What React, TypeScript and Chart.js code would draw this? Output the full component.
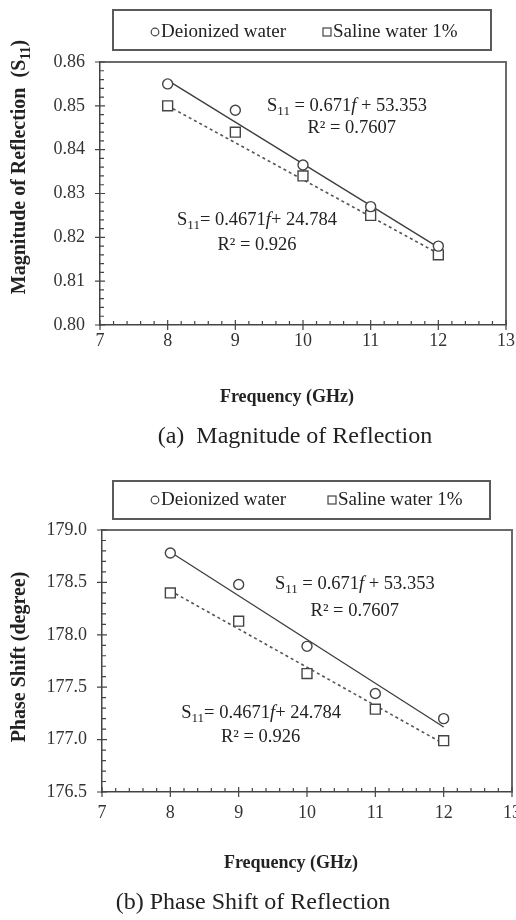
import React, { useEffect, useRef } from 'react';
import { Chart, registerables } from 'chart.js';

Chart.register(...registerables);

const FAMILY = "'Liberation Serif', 'Times New Roman', serif";

// ---------- data ----------
const SERIES_LABELS = ['Deionized water', 'Saline water 1%'];
const FREQ = [8, 9, 10, 11, 12];
const TREND_X = [8, 12];
const X_TICKS = [7, 8, 9, 10, 11, 12, 13];
const X_TICK_LABELS = ['7', '8', '9', '10', '11', '12', '13'];

const MAG_DEIONIZED = [0.855, 0.849, 0.8365, 0.827, 0.818];
const MAG_SALINE = [0.85, 0.844, 0.834, 0.825, 0.816];
const MAG_TREND_DEIONIZED = [0.8558, 0.8177];
const MAG_TREND_SALINE = [0.85, 0.8163];
const MAG_Y_TICKS = [0.8, 0.81, 0.82, 0.83, 0.84, 0.85, 0.86];
const MAG_Y_TICK_LABELS = ['0.80', '0.81', '0.82', '0.83', '0.84', '0.85', '0.86'];

const PHASE_DEIONIZED = [178.78, 178.48, 177.89, 177.44, 177.2];
const PHASE_SALINE = [178.4, 178.13, 177.63, 177.29, 176.99];
const PHASE_TREND_DEIONIZED = [178.79, 177.12];
const PHASE_TREND_SALINE = [178.42, 176.96];
const PHASE_Y_TICKS = [176.5, 177.0, 177.5, 178.0, 178.5, 179.0];
const PHASE_Y_TICK_LABELS = ['176.5', '177.0', '177.5', '178.0', '178.5', '179.0'];

type Seg = { t: string; sub?: boolean; it?: boolean };

const EQ_DEIONIZED: Seg[] = [{ t: 'S' }, { t: '11', sub: true }, { t: ' = 0.671' }, { t: 'f', it: true }, { t: ' + 53.353' }];
const R2_DEIONIZED: Seg[] = [{ t: 'R² = 0.7607' }];
const EQ_SALINE: Seg[] = [{ t: 'S' }, { t: '11', sub: true }, { t: '= 0.4671' }, { t: 'f', it: true }, { t: '+ 24.784' }];
const R2_SALINE: Seg[] = [{ t: 'R² = 0.926' }];

const MAG_Y_TITLE: Seg[] = [{ t: 'Magnitude of Reflection  (S' }, { t: '11', sub: true }, { t: ')' }];
const PHASE_Y_TITLE: Seg[] = [{ t: 'Phase Shift (degree)' }];
const X_TITLE = 'Frequency (GHz)';
const CAPTION_A = '(a)  Magnitude of Reflection';
const CAPTION_B = '(b) Phase Shift of Reflection';

// ---------- helpers ----------
function drawRich(ctx: CanvasRenderingContext2D, segs: Seg[], cx: number, cy: number, size: number, bold = false) {
  const fontOf = (s: Seg) => `${s.it ? 'italic ' : ''}${bold ? 'bold ' : ''}${s.sub ? Math.round(size * 0.68) : size}px ${FAMILY}`;
  const widths = segs.map((s) => {
    ctx.font = fontOf(s);
    return ctx.measureText(s.t).width;
  });
  const total = widths.reduce((a, b) => a + b, 0);
  let x = cx - total / 2;
  ctx.textAlign = 'left';
  ctx.textBaseline = 'middle';
  segs.forEach((s, i) => {
    ctx.font = fontOf(s);
    ctx.fillText(s.t, x, cy + (s.sub ? size * 0.3 : 0));
    x += widths[i];
  });
}

type Spec = {
  deionized: number[];
  saline: number[];
  trendD: number[];
  trendS: number[];
  yTicks: number[];
  yTickLabels: string[];
  padTop: number;
  padRight: number;
  yWidth: number;
  xHeight: number;
  xTickPad: number;
  legend: { x1: number; y1: number; x2: number; y2: number; cy: number; m1: number; t1: number; m2: number; t2: number };
  notes: { x: number; y: number; segs: Seg[] }[];
  yTitle: { segs: Seg[]; x: number; y: number };
  xTitle: { x: number; y: number };
  caption: { text: string; x: number; y: number };
};

function makeConfig(spec: Spec): any {
  const overlay = {
    id: 'overlay',
    afterDraw(chart: any) {
      const ctx: CanvasRenderingContext2D = chart.ctx;
      const { left, right, top, bottom } = chart.chartArea;
      const xs = chart.scales.x;
      const ys = chart.scales.y;
      ctx.save();
      // top / right frame
      ctx.strokeStyle = '#6a6a6a';
      ctx.lineWidth = 2;
      ctx.beginPath();
      ctx.moveTo(left, top);
      ctx.lineTo(right, top);
      ctx.lineTo(right, bottom);
      ctx.stroke();
      // ticks
      ctx.strokeStyle = '#444';
      ctx.lineWidth = 1.2;
      ctx.beginPath();
      const yt = spec.yTicks;
      for (let i = 0; i < yt.length; i++) {
        const py = ys.getPixelForValue(yt[i]);
        ctx.moveTo(left - 5, py);
        ctx.lineTo(left + 5, py);
        if (i < yt.length - 1) {
          for (let k = 1; k < 5; k++) {
            const v = yt[i] + ((yt[i + 1] - yt[i]) * k) / 5;
            const p = ys.getPixelForValue(v);
            ctx.moveTo(left, p);
            ctx.lineTo(left + 4, p);
          }
        }
      }
      for (let i = 0; i < X_TICKS.length; i++) {
        const px = xs.getPixelForValue(X_TICKS[i]);
        ctx.moveTo(px, bottom - 5);
        ctx.lineTo(px, bottom + 5);
        if (i < X_TICKS.length - 1) {
          for (let k = 1; k < 5; k++) {
            const v = X_TICKS[i] + ((X_TICKS[i + 1] - X_TICKS[i]) * k) / 5;
            const p = xs.getPixelForValue(v);
            ctx.moveTo(p, bottom);
            ctx.lineTo(p, bottom - 4);
          }
        }
      }
      ctx.stroke();

      ctx.fillStyle = '#222';
      // annotations
      spec.notes.forEach((n) => {
        drawRich(ctx, n.segs, xs.getPixelForValue(n.x), ys.getPixelForValue(n.y), 18.5);
      });
      // legend
      const L = spec.legend;
      ctx.strokeStyle = '#5a5a5a';
      ctx.lineWidth = 2;
      ctx.strokeRect(L.x1, L.y1, L.x2 - L.x1, L.y2 - L.y1);
      ctx.strokeStyle = '#444';
      ctx.lineWidth = 1.2;
      ctx.beginPath();
      ctx.arc(L.m1, L.cy, 3.8, 0, Math.PI * 2);
      ctx.stroke();
      ctx.strokeRect(L.m2 - 4, L.cy - 4, 8, 8);
      ctx.font = `19px ${FAMILY}`;
      ctx.textAlign = 'left';
      ctx.textBaseline = 'middle';
      ctx.fillText(chart.data.datasets[0].label, L.t1, L.cy);
      ctx.fillText(chart.data.datasets[1].label, L.t2, L.cy);
      // titles
      ctx.save();
      ctx.translate(spec.yTitle.x, spec.yTitle.y);
      ctx.rotate(-Math.PI / 2);
      drawRich(ctx, spec.yTitle.segs, 0, 0, 20, true);
      ctx.restore();
      ctx.fillStyle = '#222';
      drawRich(ctx, [{ t: X_TITLE }], spec.xTitle.x, spec.xTitle.y, 18, true);
      drawRich(ctx, [{ t: spec.caption.text }], spec.caption.x, spec.caption.y, 24);
      ctx.restore();
    },
  };

  const tickFont = { family: FAMILY, size: 18 };
  return {
    type: 'scatter',
    data: {
      datasets: [
        {
          label: SERIES_LABELS[0],
          data: FREQ.map((x, i) => ({ x, y: spec.deionized[i] })),
          pointStyle: 'circle',
          pointRadius: 5,
          pointBorderWidth: 1.4,
          borderColor: '#444',
          backgroundColor: '#fff',
          showLine: false,
        },
        {
          label: SERIES_LABELS[1],
          data: FREQ.map((x, i) => ({ x, y: spec.saline[i] })),
          pointStyle: 'rect',
          pointRadius: 7,
          pointBorderWidth: 1.4,
          borderColor: '#444',
          backgroundColor: '#fff',
          showLine: false,
        },
        {
          label: 'trend-d',
          data: TREND_X.map((x, i) => ({ x, y: spec.trendD[i] })),
          showLine: true,
          borderColor: '#3c3c3c',
          borderWidth: 1.3,
          pointRadius: 0,
        },
        {
          label: 'trend-s',
          data: TREND_X.map((x, i) => ({ x, y: spec.trendS[i] })),
          showLine: true,
          borderColor: '#555',
          borderWidth: 1.6,
          borderDash: [3, 3],
          pointRadius: 0,
        },
      ],
    },
    options: {
      animation: false,
      responsive: false,
      layout: { padding: { left: 0, top: spec.padTop, right: spec.padRight, bottom: 0 } },
      plugins: { legend: { display: false }, tooltip: { enabled: false } },
      scales: {
        x: {
          type: 'linear',
          min: 7,
          max: 13,
          afterBuildTicks: (s: any) => {
            s.ticks = X_TICKS.map((v) => ({ value: v }));
          },
          afterFit: (s: any) => {
            s.height = spec.xHeight;
          },
          grid: { display: false, drawTicks: false },
          border: { display: true, color: '#444', width: 1.5 },
          ticks: {
            padding: spec.xTickPad,
            color: '#333',
            font: tickFont,
            maxRotation: 0,
            autoSkip: false,
            callback: (_v: any, i: number) => X_TICK_LABELS[i],
          },
        },
        y: {
          type: 'linear',
          min: spec.yTicks[0],
          max: spec.yTicks[spec.yTicks.length - 1],
          afterBuildTicks: (s: any) => {
            s.ticks = spec.yTicks.map((v) => ({ value: v }));
          },
          afterFit: (s: any) => {
            s.width = spec.yWidth;
          },
          grid: { display: false, drawTicks: false },
          border: { display: true, color: '#444', width: 1.5 },
          ticks: {
            padding: 15,
            color: '#333',
            font: tickFont,
            autoSkip: false,
            callback: (_v: any, i: number) => spec.yTickLabels[i],
          },
        },
      },
    },
    plugins: [overlay],
  };
}

const SPEC_A: Spec = {
  deionized: MAG_DEIONIZED,
  saline: MAG_SALINE,
  trendD: MAG_TREND_DEIONIZED,
  trendS: MAG_TREND_SALINE,
  yTicks: MAG_Y_TICKS,
  yTickLabels: MAG_Y_TICK_LABELS,
  padTop: 62,
  padRight: 34,
  yWidth: 100,
  xHeight: 135,
  xTickPad: 5,
  legend: { x1: 113, y1: 10, x2: 491, y2: 50, cy: 32, m1: 155, t1: 161, m2: 327, t2: 333 },
  notes: [
    { x: 10.65, y: 0.85, segs: EQ_DEIONIZED },
    { x: 10.72, y: 0.845, segs: R2_DEIONIZED },
    { x: 9.32, y: 0.824, segs: EQ_SALINE },
    { x: 9.32, y: 0.8182, segs: R2_SALINE },
  ],
  yTitle: { segs: MAG_Y_TITLE, x: 20, y: 167 },
  xTitle: { x: 287, y: 397 },
  caption: { text: CAPTION_A, x: 295, y: 437 },
};

const SPEC_B: Spec = {
  deionized: PHASE_DEIONIZED,
  saline: PHASE_SALINE,
  trendD: PHASE_TREND_DEIONIZED,
  trendS: PHASE_TREND_SALINE,
  yTicks: PHASE_Y_TICKS,
  yTickLabels: PHASE_Y_TICK_LABELS,
  padTop: 70,
  padRight: 28,
  yWidth: 102,
  xHeight: 128,
  xTickPad: 10,
  legend: { x1: 113, y1: 21, x2: 490, y2: 59, cy: 40, m1: 155, t1: 161, m2: 332, t2: 338 },
  notes: [
    { x: 10.7, y: 178.485, segs: EQ_DEIONIZED },
    { x: 10.7, y: 178.227, segs: R2_DEIONIZED },
    { x: 9.33, y: 177.254, segs: EQ_SALINE },
    { x: 9.32, y: 177.025, segs: R2_SALINE },
  ],
  yTitle: { segs: PHASE_Y_TITLE, x: 20, y: 197 },
  xTitle: { x: 291, y: 403 },
  caption: { text: CAPTION_B, x: 253, y: 443 },
};

function ChartPanel({ spec, top }: { spec: Spec; top: number }) {
  const ref = useRef<HTMLCanvasElement | null>(null);
  useEffect(() => {
    if (!ref.current) return;
    const chart = new Chart(ref.current, makeConfig(spec));
    return () => chart.destroy();
  }, [spec]);
  return (
    <div style={{ position: 'absolute', left: 0, top, width: 540, height: 460 }}>
      <canvas ref={ref} width={540} height={460} style={{ display: 'block' }} />
    </div>
  );
}

export default function App() {
  return (
    <div style={{ position: 'absolute', left: 0, top: 0, width: 516, height: 920, overflow: 'hidden', background: '#fff' }}>
      <ChartPanel spec={SPEC_A} top={0} />
      <ChartPanel spec={SPEC_B} top={460} />
    </div>
  );
}
